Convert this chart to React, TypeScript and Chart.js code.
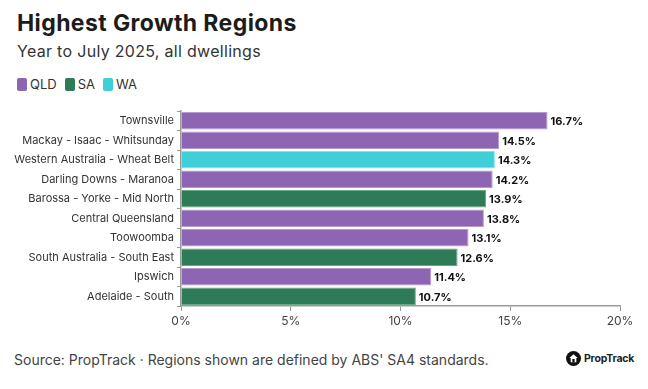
import React, { useEffect, useRef } from "react";
import { Chart, registerables } from "chart.js";

Chart.register(...registerables);

const categories = [
  "Townsville",
  "Mackay - Isaac - Whitsunday",
  "Western Australia - Wheat Belt",
  "Darling Downs - Maranoa",
  "Barossa - Yorke - Mid North",
  "Central Queensland",
  "Toowoomba",
  "South Australia - South East",
  "Ipswich",
  "Adelaide - South",
];
const values = [16.7, 14.5, 14.3, 14.2, 13.9, 13.8, 13.1, 12.6, 11.4, 10.7];
const states = ["QLD", "QLD", "WA", "QLD", "SA", "QLD", "QLD", "SA", "QLD", "SA"];
const legendStates = ["QLD", "SA", "WA"];
const xTicks = [0, 5, 10, 15, 20];

const stateColors: Record<string, string> = {
  QLD: "#8e65b3",
  SA: "#2e7b57",
  WA: "#3ecfd8",
};
const stateBorders: Record<string, string> = {
  QLD: "#b69bd0",
  SA: "#6aa588",
  WA: "#88e2e8",
};

const FONT = "Inter, 'Noto Sans', sans-serif";

const labelPlugin = {
  id: "barLabels",
  afterDatasetsDraw(chart: any) {
    const ctx = chart.ctx;
    const meta = chart.getDatasetMeta(0);
    ctx.save();
    ctx.font = `bold 11px ${FONT}`;
    ctx.fillStyle = "#111";
    ctx.textAlign = "left";
    ctx.textBaseline = "middle";
    meta.data.forEach((bar: any, i: number) => {
      ctx.fillText(values[i].toFixed(1) + "%", bar.x + 3, bar.y + 1);
    });
    ctx.restore();
  },
};

function BarChart() {
  const ref = useRef<HTMLCanvasElement>(null);
  useEffect(() => {
    if (!ref.current) return;
    const chart = new Chart(ref.current, {
      type: "bar",
      data: {
        labels: categories,
        datasets: [
          {
            data: values,
            backgroundColor: states.map((s) => stateColors[s]),
            borderColor: states.map((s) => stateBorders[s]),
            borderWidth: 1,
            categoryPercentage: 1,
            barPercentage: 0.9,
          },
        ],
      },
      options: {
        indexAxis: "y",
        animation: false,
        responsive: false,
        maintainAspectRatio: false,
        layout: { padding: { top: 11, right: 28, left: 0, bottom: 0 } },
        plugins: {
          legend: { display: false },
          tooltip: { enabled: false },
        },
        scales: {
          x: {
            min: 0,
            max: 20,
            afterBuildTicks: (scale: any) => {
              scale.ticks = xTicks.map((v) => ({ value: v }));
            },
            afterFit: (scale: any) => {
              scale.height = 26;
            },
            ticks: {
              callback: (v: any) => v + "%",
              color: "#444",
              font: { family: FONT, size: 12 },
              padding: 3,
            },
            grid: {
              drawOnChartArea: false,
              drawTicks: true,
              tickLength: 5,
              color: "#9a9a9a",
            },
            border: { color: "#9a9a9a", width: 1.5 },
          },
          y: {
            afterFit: (scale: any) => {
              scale.width = 181;
            },
            ticks: {
              color: "#333",
              font: { family: FONT, size: 11 },
              padding: 3,
            },
            grid: {
              drawOnChartArea: false,
              drawTicks: true,
              tickLength: 4,
              color: "#9a9a9a",
            },
            border: { color: "#9a9a9a", width: 1.5 },
          },
        },
      },
      plugins: [labelPlugin],
    });
    return () => chart.destroy();
  }, []);
  return (
    <canvas
      ref={ref}
      width={648}
      height={232}
      style={{ position: "absolute", left: 0, top: 100, width: 648, height: 232 }}
    />
  );
}

export default function App() {
  useEffect(() => {
    document.body.style.margin = "0";
  }, []);
  return (
    <div
      style={{
        position: "relative",
        width: 648,
        height: 389,
        background: "#fff",
        fontFamily: FONT,
        overflow: "hidden",
      }}
    >
      <div
        style={{
          position: "absolute",
          left: 17,
          top: 9,
          fontSize: 23,
          fontWeight: 700,
          color: "#1c1c1c",
          letterSpacing: 0.4,
        }}
      >
        Highest Growth Regions
      </div>
      <div
        style={{
          position: "absolute",
          left: 17,
          top: 41,
          fontSize: 16,
          color: "#333",
          letterSpacing: 0.3,
        }}
      >
        Year to July 2025, all dwellings
      </div>
      <div
        style={{
          position: "absolute",
          left: 17,
          top: 76,
          display: "flex",
          alignItems: "center",
          fontSize: 13,
          color: "#333",
        }}
      >
        {legendStates.map((s) => (
          <div key={s} style={{ display: "flex", alignItems: "center", marginRight: 8 }}>
            <span
              style={{
                display: "inline-block",
                width: 10,
                height: 13,
                borderRadius: 2,
                background: stateColors[s],
                marginRight: 3,
              }}
            />
            <span>{s}</span>
          </div>
        ))}
      </div>
      <BarChart />
      <div
        style={{
          position: "absolute",
          left: 14,
          top: 351,
          fontSize: 14,
          color: "#444",
        }}
      >
        Source: PropTrack · Regions shown are defined by ABS' SA4 standards.
      </div>
      <div
        style={{
          position: "absolute",
          left: 566,
          top: 351,
          display: "flex",
          alignItems: "center",
        }}
      >
        <svg width={15} height={15} viewBox="0 0 16 16">
          <circle cx={8} cy={8} r={8} fill="#111" />
          <path d="M8 3.5 L12.5 7.5 L11 7.5 L11 12 L5 12 L5 7.5 L3.5 7.5 Z" fill="#fff" />
          <rect x={6.8} y={8.5} width={2.4} height={3.5} fill="#111" />
        </svg>
        <span style={{ fontSize: 10.5, fontWeight: 700, color: "#222", marginLeft: 3, letterSpacing: -0.2 }}>
          PropTrack
        </span>
      </div>
    </div>
  );
}
